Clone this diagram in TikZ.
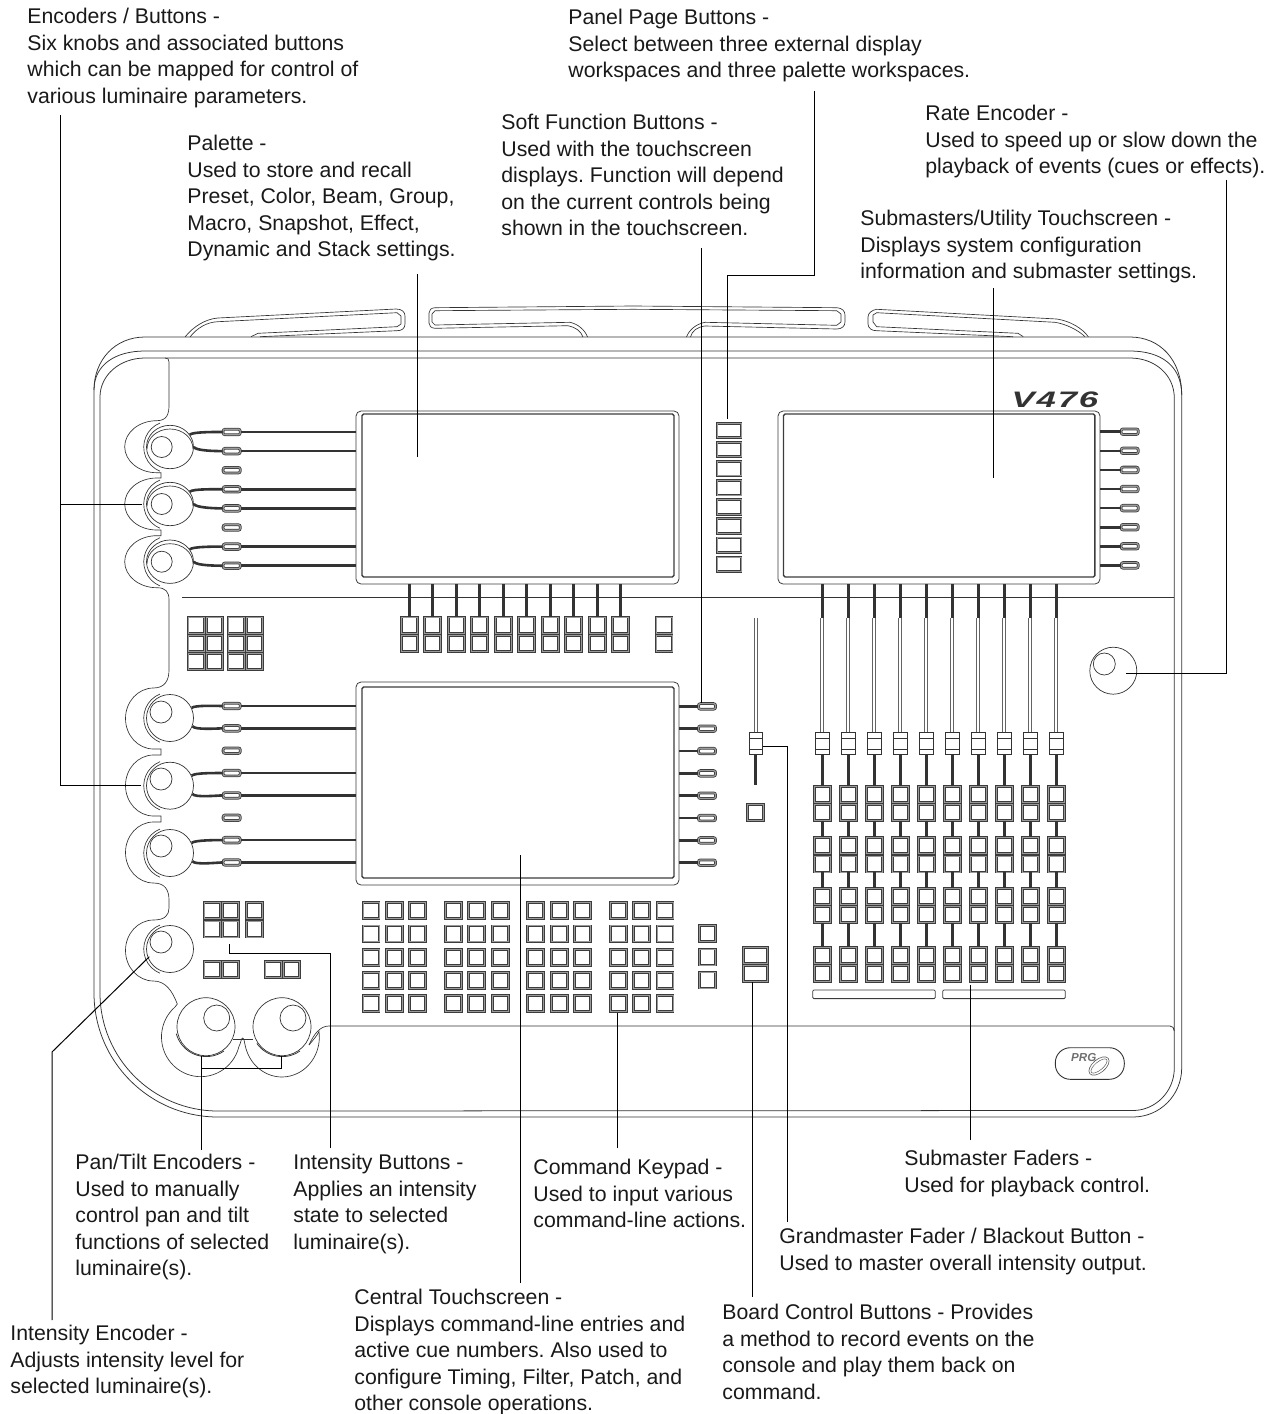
\documentclass[tikz,border=0pt]{standalone}
\usepackage{fontspec}
\setmainfont{Liberation Sans}
\usetikzlibrary{calc,positioning,shapes,shapes.geometric}
\definecolor{dkline}{HTML}{333333}
\definecolor{dktrim}{HTML}{3C3C3C}
\definecolor{midtrim}{HTML}{9A9A9A}
\tikzstyle{nddesc} = [anchor=north west, inner sep=0pt, align=left, text=black!90, font=\frenchspacing\fontsize{10.63}{13.25}\selectfont]
\tikzstyle{ndkey} = [draw=dktrim, double=midtrim, line width=.45pt, double distance=.5pt, fill=white, shape=rectangle, minimum width=8pt, minimum height=8pt, inner sep=0pt]
\tikzstyle{ndpage} = [ndkey, minimum width=12pt, minimum height=7.2pt]
\tikzstyle{ndslot} = [draw=dktrim, double=midtrim, line width=.38pt, double distance=.6pt, shape=rectangle, rounded corners=1pt, minimum width=8.6pt, minimum height=2.8pt, inner sep=0pt]
\tikzstyle{ndcap} = [draw=dkline, line width=.35pt, fill=white, shape=rectangle, minimum width=6.6pt, minimum height=11pt, inner sep=0pt]
\tikzstyle{ndknob} = [draw=dkline, line width=.35pt, fill=white, shape=ellipse, minimum width=23.5pt, minimum height=21.7pt, inner sep=0pt]
\tikzstyle{ndround} = [ndknob, minimum width=23.5pt, minimum height=23.5pt]
\tikzstyle{ndpan} = [ndknob, minimum width=29pt, minimum height=29pt]
\tikzstyle{ndscreen} = [draw=dktrim, line width=.4pt, shape=rectangle, rounded corners=2.5pt, inner sep=0pt]
\tikzstyle{ndglass} = [draw=dktrim, line width=.7pt, shape=rectangle, rounded corners=.8pt, inner sep=0pt]
\tikzstyle{ndstrip} = [draw=dktrim, line width=.4pt, shape=rectangle, rounded corners=.6pt, minimum width=61.3pt, minimum height=4.3pt, inner sep=0pt]
\tikzstyle{ndlogo} = [inner sep=0pt, text=dkline]
\tikzstyle{arbody} = [style={draw=dkline, line width=.38pt}]
\tikzstyle{arthin} = [style={draw=dkline, line width=.33pt}]
\tikzstyle{artrack} = [style={draw=dkline, line width=1.3pt}]
\tikzstyle{artrunk} = [style={draw=dkline, line width=1.6pt}]
\tikzstyle{arrail} = [style={draw=dktrim!80, double=white, line width=.45pt, double distance=1.1pt}]
\tikzstyle{arlead} = [style={draw=black, line width=.5pt}]

\begin{document}
\begin{tikzpicture}[x=.5pt, y=-.5pt]
	\useasboundingbox (0,0) rectangle (1278,1414);
	\draw[arbody] (145,337) .. controls (115,337) and (94,360) .. (94,390) -- (94,993) arc[start angle=180, end angle=90, radius=124] -- (1133,1117) .. controls (1160,1117) and (1181.7,1095) .. (1181.7,1068) -- (1181.7,395) .. controls (1181.7,360) and (1160,337) .. (1130,337) -- cycle;
	\draw[arbody] (94,390) .. controls (94,365) and (115,351) .. (145,351) -- (1130,351) .. controls (1160,351) and (1181.7,365) .. (1181.7,395);
	\draw[arbody] (100,397) -- (100,993) arc[start angle=180, end angle=90, radius=118] -- (1133,1110.5) .. controls (1155,1110.5) and (1174.3,1092) .. (1174.3,1068) -- (1174.3,398) .. controls (1174.3,375) and (1155,358) .. (1130,358) -- (145,358) .. controls (120,358) and (100,375) .. (100,397);
	\draw[arbody] (329,1026) -- (1170,1026) .. controls (1172.5,1026) and (1174.3,1028) .. (1174.3,1031);
	\draw[arthin] (182,597) -- (1174.3,597);
	\draw[arthin] (165,358) .. controls (168,358) and (169,359) .. (169,362) -- (169,405) .. controls (169,414) and (167,420.7) .. (156.7,420.7)
		arc[start angle=-90, end angle=-270, x radius=32, y radius=26] -- (161,472.7) -- (161,478) -- (156.7,478)
		arc[start angle=-90, end angle=-270, x radius=32, y radius=26] -- (161,530) -- (161,535.7) -- (156.7,535.7)
		arc[start angle=-90, end angle=-270, x radius=32, y radius=26] .. controls (166,587.7) and (169,592) .. (169,600) -- (169,670) .. controls (169,680) and (165,688) .. (153.5,688)
		arc[start angle=-90, end angle=-270, x radius=28, y radius=30.5] -- (161,749) -- (161,755) -- (153.5,755)
		arc[start angle=-90, end angle=-270, x radius=28, y radius=30.5] -- (161,816) -- (161,822) -- (153.5,822)
		arc[start angle=-90, end angle=-270, x radius=28, y radius=30.5] .. controls (165,883) and (169,890) .. (169,900) -- (169,908) .. controls (169,915) and (165,920) .. (153.5,920)
		arc[start angle=-90, end angle=-270, x radius=28, y radius=30.5] .. controls (165,981) and (172,990) .. (177.3,1004) -- (175,1007)
		arc[start angle=-131, end angle=-346, x radius=39.3, y radius=39.7] .. controls (241,1043) and (241,1038) .. (242.7,1038) .. controls (244.5,1038) and (244.5,1045) .. (246.4,1050)
		arc[start angle=161, end angle=-8, x radius=37.5, y radius=40] .. controls (317,1036) and (313,1040) .. (309,1045);
	\draw[arthin] (329,1026) .. controls (320,1026) and (314,1034) .. (309,1045);
	\draw[arthin] (233,1039) -- (253,1039);

	\foreach \yc in {447,504,561.7,718,785.7,853,949} {
		\draw[arthin] (160,\yc-24) arc[start angle=-112, end angle=-248, x radius=26, y radius=26];
	}
	\foreach \i/\yc in {1/447, 2/504, 3/561.7} {
		\node[ndknob] (kn\i) at (170,\yc) {};
		\draw[arthin] ($(kn\i)+(-23,2)$) arc[start angle=-180, end angle=0, x radius=23, y radius=20];
		\node[ndknob, minimum width=10.5pt, minimum height=10.5pt] (kc\i) at (161.7,\yc) {};
	}
	\foreach \i/\yc/\ys in {4/718/712, 5/785.7/779, 6/853/846, 7/949/942} {
		\node[ndround] (kn\i) at (170,\yc) {};
		\node[ndknob, minimum width=11pt, minimum height=11pt] (kc\i) at (161,\ys) {};
	}
	\node[ndpan] (pnl) at (206,1026.7) {};
	\node[ndpan] (pnr) at (282,1026.7) {};
	\node[ndknob, minimum width=13pt, minimum height=13pt] (pcl) at (216.7,1018) {};
	\node[ndknob, minimum width=13pt, minimum height=13pt] (pcr) at (293,1018) {};
	\draw[arbody] (224,1051) arc[start angle=55, end angle=165, radius=31];
	\draw[arbody] (300,1051) arc[start angle=55, end angle=145, radius=31];
	\node[ndround] (krate) at (1113.3,670.7) {};
	\node[ndknob, minimum width=11pt, minimum height=11pt] (crate) at (1104.3,664) {};

	\node[ndscreen, minimum width=161.5pt, minimum height=86.5pt] (scrU) at (517.5,497.5) {};
	\node[ndglass, minimum width=156pt, minimum height=81.5pt] (glsU) at (518,495.5) {};
	\node[ndscreen, minimum width=161.5pt, minimum height=101.5pt] (scrM) at (517.5,783.5) {};
	\node[ndglass, minimum width=156pt, minimum height=95.5pt] (glsM) at (518,782.5) {};
	\node[ndscreen, minimum width=161pt, minimum height=86.5pt] (scrR) at (939,497.5) {};
	\node[ndglass, minimum width=155.7pt, minimum height=81.5pt] (glsR) at (939.2,495.5) {};

	\foreach \i in {0,...,7} {
		\node[ndslot] (tu\i) at (231.7,{432+19.1*\i}) {};
		\node[ndslot] (tr\i) at (1129.7,{431.7+19.1*\i}) {};
		\node[ndslot] (tl\i) at (231.7,{706+22.35*\i}) {};
		\node[ndslot] (tm\i) at (707,{706.4+22.33*\i}) {};
		\node[ndpage] (pg\i) at (729,{430.5+19.1*\i}) {};
		\draw[artrack] (scrR.east |- tr\i.west) -- (tr\i.west);
		\draw[artrack] (scrM.east |- tm\i.west) -- (tm\i.west);
	}
	\foreach \i in {0,1,3,4,6,7} {
		\draw[artrack] (tu\i.east) -- (scrU.west |- tu\i.east);
		\draw[artrack] (tl\i.east) -- (scrM.west |- tl\i.east);
	}
	\draw[artrack] (kn1.32) .. controls +(3,-3) and +(-5,0) .. (tu0.west);
	\draw[artrack] (kn1.0) .. controls +(2,4) and +(-5,0) .. (tu1.west);
	\draw[artrack] (kn2.32) .. controls +(3,-3) and +(-5,0) .. (tu3.west);
	\draw[artrack] (kn2.0) .. controls +(2,4) and +(-5,0) .. (tu4.west);
	\draw[artrack] (kn3.32) .. controls +(3,-3) and +(-5,0) .. (tu6.west);
	\draw[artrack] (kn3.0) .. controls +(2,4) and +(-5,0) .. (tu7.west);
	\draw[artrack] (kn4.25) .. controls +(3,-3) and +(-5,0) .. (tl0.west);
	\draw[artrack] (kn4.-20) .. controls +(2,4) and +(-5,0) .. (tl1.west);
	\draw[artrack] (kn5.25) .. controls +(3,-3) and +(-5,0) .. (tl3.west);
	\draw[artrack] (kn5.-20) .. controls +(2,4) and +(-5,0) .. (tl4.west);
	\draw[artrack] (kn6.25) .. controls +(3,-3) and +(-5,0) .. (tl6.west);
	\draw[artrack] (kn6.-20) .. controls +(2,4) and +(-5,0) .. (tl7.west);

	\foreach \i in {0,1,2} {
		\foreach \j in {0,1} {
			\node[ndkey] (gr\i-\j) at ({196+18.3*\j},{625+18.3*\i}) {};
			\node[ndkey] (gs\i-\j) at ({236+18.3*\j},{625+18.3*\i}) {};
		}
	}
	\foreach \i in {0,...,9} {
		\node[ndkey] (fb\i-1) at ({409.2+23.5*\i},625) {};
		\node[ndkey] (fb\i-2) at ({409.2+23.5*\i},643.3) {};
		\draw[artrunk] (fb\i-1.north) -- (fb\i-1.north |- scrU.south);
	}
	\node[ndkey] (fx1) at (664,625) {};
	\node[ndkey] (fx2) at (664,643.3) {};

	\foreach \i in {0,...,9} {
		\coordinate (rt\i) at ({822.3+26*\i},618);
		\draw[artrunk] (rt\i |- scrR.south) -- (rt\i);
		\node[ndcap] (fc\i) at ({822.3+26*\i},743) {};
		\draw[arrail] (rt\i) -- (fc\i.north);
		\draw[arthin] ($(fc\i)+(-6.5,-5)$) -- ($(fc\i)+(6.5,-5)$);
		\draw[arthin] ($(fc\i)+(-6.5,6)$) -- ($(fc\i)+(6.5,6)$);
		\foreach \r/\yc in {1/794.2, 2/812.5, 3/845.8, 4/864, 5/896.5, 6/914.8, 7/955.2, 8/973.5} {
			\node[ndkey] (fk\i-\r) at (fc\i |- 0,\yc) {};
		}
		\draw[artrunk] (fc\i.south) -- (fk\i-1.north);
		\draw[artrunk] (fk\i-2.south) -- (fk\i-3.north);
		\draw[artrunk] (fk\i-4.south) -- (fk\i-5.north);
		\draw[artrunk] (fk\i-6.south) -- (fk\i-7.north);
	}
	\node[ndstrip] (sp1) at (874,994.3) {};
	\node[ndstrip] (sp2) at (1004,994.3) {};

	\coordinate (gmt) at (755.7,617.7);
	\node[ndcap] (gmc) at (755.7,743) {};
	\coordinate (gmb) at (755.7,785);
	\draw[arrail] (gmt) -- (gmc.north);
	\draw[arthin] ($(gmc)+(-6.5,-5)$) -- ($(gmc)+(6.5,-5)$);
	\draw[arthin] ($(gmc)+(-6.5,6)$) -- ($(gmc)+(6.5,6)$);
	\draw[artrunk] (gmc.south) -- (gmb);
	\node[ndkey] (blk) at (755.7,812.3) {};

	\foreach \g in {0,...,3} {
		\foreach \j in {0,1,2} {
			\foreach \i in {0,...,4} {
				\node[ndkey] (kp\g-\j-\i) at ({371+82.4*\g+23.4*\j},{910.7+23.2*\i}) {};
			}
		}
	}
	\node[ndkey] (cm1) at (707.3,933.8) {};
	\node[ndkey] (cm2) at (707.3,957) {};
	\node[ndkey] (cm3) at (707.3,980) {};
	\node[ndkey, minimum width=12pt] (bc1) at (755.7,955.2) {};
	\node[ndkey, minimum width=12pt] (bc2) at (755.7,973.5) {};

	\foreach \i in {0,1} {
		\node[ndkey] (ia\i-0) at (212,{910.6+18.4*\i}) {};
		\node[ndkey] (ia\i-1) at (230.2,{910.6+18.4*\i}) {};
		\node[ndkey] (ib\i) at (254.8,{910.6+18.4*\i}) {};
		\node[ndkey] (ic\i) at ({212+18.2*\i},969.5) {};
		\node[ndkey] (id\i) at ({273+18.6*\i},969.5) {};
	}

	\draw[arthin] (185,337) .. controls (193,327) and (205,319) .. (218,318) -- (396,309) .. controls (402,309) and (405,312) .. (405,316) -- (405,324) .. controls (405,328) and (402,331) .. (396.7,330.7) -- (260,336.7);
	\draw[arthin] (190,337) .. controls (197,328) and (207,322) .. (218,321.7) -- (397,312.7) -- (401,316) -- (401,324) -- (397,326.7) -- (258,333.3) -- (251,336.7);
	\draw[arthin] (435,307.7) -- (633,306) -- (836.7,307.7) .. controls (842,308) and (845,311) .. (845,315) -- (845,322) .. controls (845,326) and (842,329) .. (836.7,329) -- (705,326) .. controls (697,327) and (692,331) .. (690.5,337);
	\draw[arthin] (435,307.7) .. controls (431,308) and (429,310) .. (429,313) -- (429,323) .. controls (429,326) and (431,328) .. (435,328.3) -- (568,325.7) .. controls (575,327) and (581,331) .. (583,337);
	\draw[arthin] (432,322) -- (432,314) -- (435,310.7) -- (633,309.3) -- (836.7,310.7) -- (841,314) -- (841,322) -- (836.7,325.3) -- (705,322.3) .. controls (696,324) and (689,330) .. (686.5,337);
	\draw[arthin] (432,322) -- (435,325) -- (570,322.3) .. controls (578,324) and (585,330) .. (587.5,337);
	\draw[arthin] (876.7,309.3) .. controls (872,310) and (868,313) .. (868,317) -- (868,324) .. controls (868,328) and (872,331) .. (876.7,330.7) -- (1013,336.7);
	\draw[arthin] (876.7,309.3) -- (1056.7,319) .. controls (1070,321) and (1082,328) .. (1088.3,336.7);
	\draw[arthin] (873,322) -- (873,315) -- (876.7,312.7) -- (1055,322.3) .. controls (1066,324) and (1078,330) .. (1085,336.7);
	\draw[arthin] (873,322) -- (876.7,326.7) -- (1018,333.3) -- (1023.3,336.7);

	\node[ndlogo, font=\fontsize{11.2}{12}\selectfont\bfseries\itshape, xscale=1.55] (logov) at (1055,400) {V\kern.6pt4\kern.6pt7\kern.6pt6};
	\node[draw=dkline, line width=.45pt, shape=rectangle, rounded corners=7.5pt, minimum width=34.5pt, minimum height=15.8pt, inner sep=0pt] (logop) at (1089.8,1063.5) {};
	\node[ndlogo, font=\fontsize{5.8}{6}\selectfont\bfseries\itshape, text=dkline!70] (logot) at (1083.7,1057.5) {PRG};
	\node[draw=dkline!80, line width=.3pt, shape=ellipse, rotate=40, minimum width=12pt, minimum height=6.5pt, inner sep=0pt] (logob) at (1099,1066) {};
	\node[draw=dkline!80, line width=.25pt, shape=ellipse, rotate=40, minimum width=10pt, minimum height=4pt, inner sep=0pt] (logoc) at (1099,1066) {};

	\node[nddesc] (txEnc) at (27,8) {Encoders / Buttons -\\Six knobs and associated buttons\\which can be mapped for control of\\various luminaire parameters.};
	\node[nddesc] (txPal) at (187,135) {Palette -\\Used to store and recall\\Preset, Color, Beam, Group,\\Macro, Snapshot, Effect,\\Dynamic and Stack settings.};
	\node[nddesc] (txSof) at (501,114) {Soft Function Buttons -\\Used with the touchscreen\\displays. Function will depend\\on the current controls being\\shown in the touchscreen.};
	\node[nddesc] (txPag) at (568,9) {Panel Page Buttons -\\Select between three external display\\workspaces and three palette workspaces.};
	\node[nddesc] (txRat) at (925,105) {Rate Encoder -\\Used to speed up or slow down the\\playback of events (cues or effects).};
	\node[nddesc] (txSub) at (860,210) {Submasters/Utility Touchscreen -\\Displays system configuration\\information and submaster settings.};
	\node[nddesc] (txPan) at (75,1154) {Pan/Tilt Encoders -\\Used to manually\\control pan and tilt\\functions of selected\\luminaire(s).};
	\node[nddesc] (txInt) at (293,1154) {Intensity Buttons -\\Applies an intensity\\state to selected\\luminaire(s).};
	\node[nddesc] (txCmd) at (533,1159) {Command Keypad -\\Used to input various\\command-line actions.};
	\node[nddesc] (txFad) at (904,1150) {Submaster Faders -\\Used for playback control.};
	\node[nddesc] (txGrm) at (779,1228) {Grandmaster Fader / Blackout Button -\\Used to master overall intensity output.};
	\node[nddesc] (txBrd) at (722,1304) {Board Control Buttons - Provides\\a method to record events on the\\console and play them back on\\command.};
	\node[nddesc] (txCen) at (354,1289) {Central Touchscreen -\\Displays command-line entries and\\active cue numbers. Also used to\\configure Timing, Filter, Patch, and\\other console operations.};
	\node[nddesc] (txEnI) at (10,1325) {Intensity Encoder -\\Adjusts intensity level for\\selected luminaire(s).};

	\coordinate (ldEnc) at (60,115);
	\coordinate (ldEn1) at (60,504);
	\coordinate (ldEn2) at (60,785);
	\coordinate (ldKn2) at (142,504);
	\coordinate (ldKn5) at (141,785);
	\draw[arlead] (ldEnc) -- (ldEn2) -- (ldKn5);
	\draw[arlead] (ldEn1) -- (ldKn2);
	\coordinate (ldPal) at (417.3,274);
	\coordinate (ldPaS) at (417.3,456.7);
	\draw[arlead] (ldPal) -- (ldPaS);
	\coordinate (ldSof) at (701.5,248);
	\draw[arlead] (ldSof) -- (tm0.north -| ldSof);
	\coordinate (ldPag) at (814.3,91);
	\coordinate (ldPgA) at (814.3,275.3);
	\coordinate (ldPgB) at (727.5,275.3);
	\coordinate (ldPgC) at (727.5,418.5);
	\draw[arlead] (ldPag) -- (ldPgA) -- (ldPgB) -- (ldPgC);
	\coordinate (ldSub) at (993.3,288);
	\coordinate (ldSuS) at (993.3,477.7);
	\draw[arlead] (ldSub) -- (ldSuS);
	\coordinate (ldRat) at (1226,180);
	\coordinate (ldRaB) at (1226,673);
	\coordinate (ldRaK) at (1126,673);
	\draw[arlead] (ldRat) -- (ldRaB) -- (ldRaK);
	\coordinate (ldFad) at (970.3,1140);
	\coordinate (ldFaK) at (970.3,985);
	\draw[arlead] (ldFad) -- (ldFaK);
	\coordinate (ldCmd) at (617,1148);
	\coordinate (ldCmK) at (617,1013);
	\draw[arlead] (ldCmd) -- (ldCmK);
	\coordinate (ldCen) at (520,1283);
	\coordinate (ldCeS) at (520,855);
	\draw[arlead] (ldCen) -- (ldCeS);
	\coordinate (ldGrm) at (787.3,1222);
	\coordinate (ldGrB) at (787.3,746.5);
	\draw[arlead] (ldGrm) -- (ldGrB) -- (gmc.east |- ldGrB);
	\coordinate (ldBrd) at (752.3,1297);
	\draw[arlead] (ldBrd) -- (bc2.south -| ldBrd);
	\coordinate (ldInt) at (330.7,1148);
	\coordinate (ldInB) at (330.7,953.3);
	\coordinate (ldInC) at (229.3,953.3);
	\coordinate (ldInD) at (229.3,944.3);
	\draw[arlead] (ldInt) -- (ldInB) -- (ldInC) -- (ldInD);
	\coordinate (ldPan) at (201.3,1150);
	\coordinate (ldPaK) at (201.3,1055.7);
	\coordinate (ldPaM) at (201.3,1068.3);
	\coordinate (ldPaR) at (281.7,1068.3);
	\coordinate (ldPaT) at (281.7,1056);
	\draw[arlead] (ldPan) -- (ldPaK);
	\draw[arlead] (ldPaM) -- (ldPaR) -- (ldPaT);
	\coordinate (ldEnI) at (52,1320);
	\coordinate (ldEnB) at (52,1052);
	\coordinate (ldEnK) at (149.3,956.7);
	\draw[arlead] (ldEnI) -- (ldEnB) -- (ldEnK);
\end{tikzpicture}
\end{document}
